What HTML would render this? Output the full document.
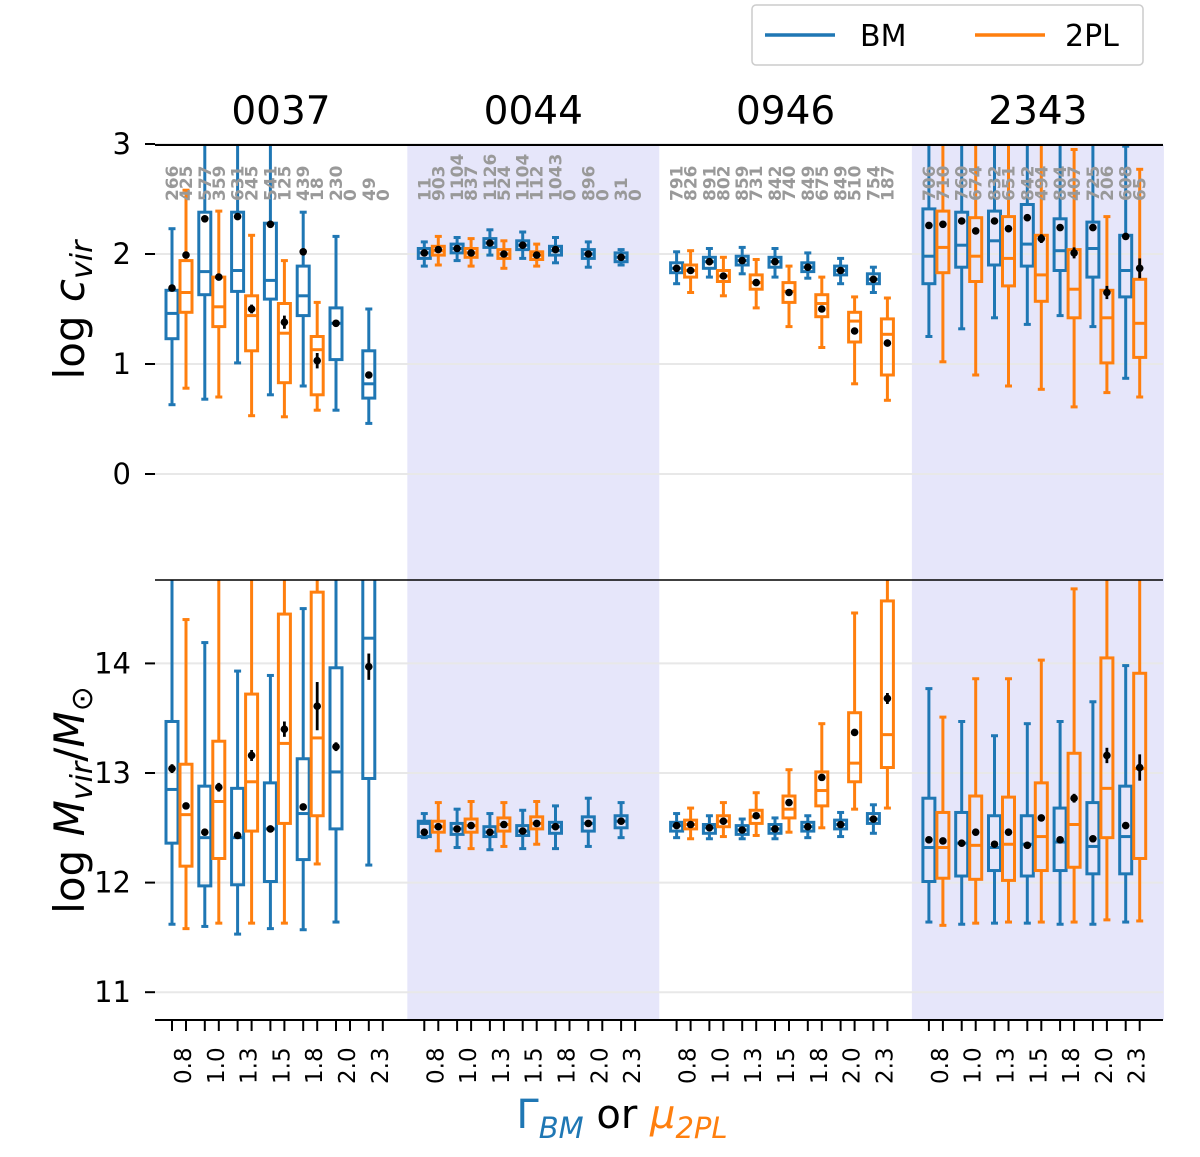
<!DOCTYPE html>
<html><head><meta charset="utf-8">
<style>
html,body{margin:0;padding:0;background:#fff;}
svg{display:block;font-family:"DejaVu Sans","Liberation Sans",sans-serif;}
</style></head>
<body>
<svg id="chart" width="1200" height="1157" viewBox="0 0 1200 1157" xmlns="http://www.w3.org/2000/svg">
<defs>
<clipPath id="clipTop"><rect x="155" y="145" width="1008" height="435"/></clipPath>
<clipPath id="clipBot"><rect x="155" y="580" width="1008" height="440"/></clipPath>
</defs>
<g id="bg"></g>
<g id="grid"></g>
<g id="marksTop" clip-path="url(#clipTop)"></g>
<g id="marksBot" clip-path="url(#clipBot)"></g>
<g id="axes"></g>
<g id="labels"></g>
<g>
<rect x="752" y="5" width="391" height="60" rx="4" fill="#fff" stroke="#ccc" stroke-width="1.5"/>
<g>
<line x1="765" y1="35" x2="835" y2="35" stroke="#1f77b4" stroke-width="3.5"/>
<text x="860" y="46" font-size="30" fill="#000">BM</text>
</g>
<g>
<line x1="975" y1="35" x2="1045" y2="35" stroke="#ff7f0e" stroke-width="3.5"/>
<text x="1065" y="46" font-size="30" fill="#000">2PL</text>
</g>
</g>
<text transform="translate(84,310) rotate(-90)" text-anchor="middle" font-size="42">log <tspan font-style="italic">c</tspan><tspan font-style="italic" font-size="30" dy="8">vir</tspan></text>
<text transform="translate(84,800) rotate(-90)" text-anchor="middle" font-size="42">log <tspan font-style="italic">M</tspan><tspan font-style="italic" font-size="30" dy="8">vir</tspan><tspan dy="-8">/</tspan><tspan font-style="italic">M</tspan><tspan font-size="30" dy="8">⊙</tspan></text>
<text x="622" y="1128" text-anchor="middle" font-size="40"><tspan fill="#1f77b4">Γ</tspan><tspan fill="#1f77b4" font-style="italic" font-size="29" dy="10">BM</tspan><tspan dy="-10" fill="#000"> or </tspan><tspan fill="#ff7f0e" font-style="italic">μ</tspan><tspan fill="#ff7f0e" font-style="italic" font-size="29" dy="10">2PL</tspan></text>
</svg>
<script>
// ---------- data ----------
const groups = ["0037","0044","0946","2343"];
const paramLabels = ["0.8","1.0","1.3","1.5","1.8","2.0","2.3"];
const topTicks = [0,1,2,3];
const botTicks = [11,12,13,14];
const countBM = [[266,577,631,541,439,230,49],[11,1104,1126,1104,1043,896,31],[791,891,859,842,849,849,754],[706,760,832,842,804,725,608]];
const count2PL = [[425,359,245,125,18,0,0],[903,837,524,112,0,0,0],[826,802,731,740,675,510,187],[710,674,651,494,407,206,65]];
const cBM = [
 [[0.63,1.23,1.46,1.67,2.23],[0.68,1.63,1.84,2.38,3.4],[1.01,1.66,1.85,2.38,3.4],[0.72,1.59,1.76,2.28,3.4],[0.80,1.44,1.62,1.89,2.38],[0.58,1.04,1.37,1.51,2.16],[0.46,0.69,0.82,1.12,1.50]],
 [[1.89,1.96,2.01,2.05,2.11],[1.94,2.01,2.05,2.09,2.15],[1.99,2.06,2.10,2.14,2.22],[1.96,2.04,2.08,2.12,2.20],[1.92,1.99,2.03,2.07,2.15],[1.88,1.96,2.00,2.04,2.11],[1.90,1.93,1.97,2.01,2.04]],
 [[1.73,1.83,1.87,1.92,2.02],[1.79,1.87,1.93,1.97,2.05],[1.82,1.90,1.94,1.98,2.06],[1.79,1.88,1.93,1.97,2.05],[1.78,1.84,1.88,1.92,2.01],[1.73,1.81,1.85,1.89,1.96],[1.65,1.73,1.77,1.82,1.88]],
 [[1.25,1.73,1.98,2.41,3.4],[1.32,1.88,2.08,2.38,3.4],[1.42,1.90,2.12,2.39,3.4],[1.36,1.89,2.09,2.45,3.4],[1.44,1.85,2.03,2.32,3.4],[1.34,1.79,2.05,2.29,3.4],[0.87,1.61,1.85,2.17,2.98]]
];
const c2PL = [
 [[0.78,1.47,1.65,1.94,2.58],[0.70,1.34,1.52,1.79,2.39],[0.53,1.12,1.44,1.62,2.17],[0.52,0.83,1.28,1.55,1.94],[0.58,0.72,1.13,1.25,1.56],null,null],
 [[1.90,1.99,2.03,2.07,2.16],[1.89,1.97,2.01,2.05,2.14],[1.87,1.96,2.00,2.04,2.12],[1.89,1.95,1.99,2.02,2.09],null,null,null],
 [[1.65,1.79,1.85,1.90,2.03],[1.62,1.75,1.80,1.85,1.97],[1.51,1.68,1.74,1.81,1.95],[1.34,1.56,1.66,1.74,1.89],[1.15,1.43,1.55,1.63,1.79],[0.82,1.20,1.39,1.47,1.61],[0.67,0.90,1.27,1.41,1.60]],
 [[1.02,1.83,2.06,2.39,3.4],[0.90,1.75,1.98,2.33,3.4],[0.80,1.71,1.96,2.34,3.4],[0.77,1.57,1.81,2.17,3.4],[0.61,1.42,1.68,2.04,2.95],[0.74,1.01,1.42,1.67,2.34],[0.70,1.06,1.37,1.77,2.77]]
];
const cMeanBM = [[1.69,2.32,2.34,2.27,2.02,1.37,0.90],[2.01,2.05,2.10,2.08,2.04,2.00,1.97],[1.87,1.93,1.94,1.93,1.88,1.85,1.77],[2.26,2.30,2.30,2.33,2.24,2.24,2.16]];
const cMean2PL = [[1.99,1.79,1.50,1.38,1.03,null,null],[2.04,2.01,2.00,1.99,null,null,null],[1.85,1.80,1.74,1.65,1.50,1.30,1.19],[2.27,2.21,2.23,2.14,2.01,1.65,1.87]];
const cErrBM = [[0.03,0.03,0.03,0.03,0.02,0.03,0.03],[0.02,0.01,0.01,0.01,0.01,0.01,0.02],[0.01,0.01,0.01,0.01,0.01,0.01,0.01],[0.02,0.02,0.02,0.02,0.02,0.02,0.02]];
const cErr2PL = [[0.02,0.03,0.04,0.06,0.07,null,null],[0.01,0.01,0.01,0.02,null,null,null],[0.01,0.01,0.01,0.01,0.02,0.02,0.03],[0.02,0.02,0.03,0.04,0.05,0.06,0.09]];
const mBM = [
 [[11.62,12.36,12.85,13.47,15.5],[11.60,11.97,12.41,12.88,14.19],[11.53,11.98,12.41,12.86,13.93],[11.58,12.01,12.49,12.91,13.89],[11.57,12.21,12.63,13.13,14.50],[11.64,12.49,13.01,13.96,15.5],[12.16,12.95,14.23,15.5,15.5]],
 [[12.41,12.42,12.54,12.56,12.63],[12.32,12.44,12.49,12.54,12.67],[12.30,12.42,12.46,12.51,12.63],[12.31,12.43,12.47,12.52,12.66],[12.31,12.45,12.51,12.55,12.70],[12.33,12.47,12.54,12.60,12.77],[12.41,12.50,12.56,12.61,12.73]],
 [[12.41,12.47,12.52,12.55,12.63],[12.40,12.45,12.50,12.53,12.61],[12.40,12.44,12.48,12.52,12.58],[12.40,12.45,12.49,12.53,12.59],[12.41,12.47,12.51,12.55,12.61],[12.42,12.49,12.53,12.57,12.64],[12.45,12.54,12.58,12.63,12.71]],
 [[11.64,12.01,12.32,12.77,13.77],[11.62,12.06,12.36,12.64,13.47],[11.63,12.11,12.32,12.61,13.34],[11.63,12.06,12.35,12.61,13.45],[11.62,12.11,12.37,12.68,13.47],[11.62,12.08,12.33,12.73,13.65],[11.64,12.08,12.42,12.88,13.98]]
];
const m2PL = [
 [[11.58,12.15,12.62,13.08,14.40],[11.63,12.22,12.74,13.29,15.5],[11.63,12.47,12.92,13.72,15.5],[11.63,12.54,13.27,14.45,15.5],[12.17,12.61,13.32,14.65,15.5],null,null],
 [[12.29,12.46,12.51,12.56,12.73],[12.31,12.46,12.52,12.58,12.74],[12.33,12.47,12.53,12.59,12.73],[12.35,12.49,12.54,12.60,12.74],null,null,null],
 [[12.40,12.49,12.53,12.57,12.68],[12.42,12.51,12.56,12.61,12.73],[12.43,12.54,12.60,12.66,12.82],[12.46,12.59,12.67,12.79,13.03],[12.50,12.70,12.84,13.01,13.45],[12.67,12.92,13.09,13.55,14.46],[12.68,13.05,13.35,14.57,15.5]],
 [[11.61,12.04,12.32,12.64,13.51],[11.63,12.03,12.34,12.79,13.86],[11.64,12.02,12.35,12.78,13.86],[11.64,12.11,12.42,12.91,14.03],[11.64,12.14,12.53,13.18,14.68],[11.66,12.41,12.86,14.05,15.5],[11.65,12.22,13.04,13.91,15.5]]
];
const mMeanBM = [[13.04,12.46,12.43,12.49,12.69,13.24,13.97],[12.46,12.49,12.46,12.47,12.51,12.54,12.56],[12.52,12.50,12.48,12.49,12.51,12.53,12.58],[12.39,12.36,12.35,12.34,12.39,12.40,12.52]];
const mMean2PL = [[12.70,12.87,13.16,13.40,13.61,null,null],[12.51,12.52,12.53,12.54,null,null,null],[12.53,12.56,12.61,12.73,12.96,13.37,13.68],[12.38,12.46,12.46,12.59,12.77,13.16,13.05]];
const mErrBM = [[0.04,0.02,0.02,0.02,0.03,0.04,0.12],[0.02,0.01,0.01,0.01,0.01,0.01,0.02],[0.01,0.01,0.01,0.01,0.01,0.01,0.01],[0.02,0.02,0.02,0.02,0.02,0.02,0.03]];
const mErr2PL = [[0.03,0.04,0.05,0.07,0.22,null,null],[0.01,0.01,0.01,0.01,null,null,null],[0.01,0.01,0.01,0.01,0.02,0.03,0.05],[0.02,0.02,0.02,0.03,0.04,0.07,0.12]];

// ---------- scales ----------
const BLUE="#1f77b4", ORANGE="#ff7f0e", NS="http://www.w3.org/2000/svg";
const groupLeft = g => 155 + g*252.3;
const xBM = (g,i) => groupLeft(g) + 17 + 32.8*i;
const x2PL = (g,i) => xBM(g,i) + 14;
const yTop = v => 474 - 110*v;
const yBot = v => 773 - 109.6*(v-13);

function el(tag, attrs, parent){
  const e=document.createElementNS(NS,tag);
  for(const k in attrs) e.setAttribute(k,attrs[k]);
  parent.appendChild(e); return e;
}
const bg=document.getElementById('bg'), grid=document.getElementById('grid'),
      axes=document.getElementById('axes'), labels=document.getElementById('labels');

[1,3].forEach(g=>{
  const r=el('rect',{x:groupLeft(g),y:145,width:252,height:875,fill:"#e6e6fa"},bg);
  
  
});
topTicks.forEach(t=>{
  const y=yTop(t);
  el('line',{x1:155,x2:1163,y1:y,y2:y,stroke:"#e8e8e8","stroke-width":2},grid);
  el('line',{x1:145,x2:155,y1:y,y2:y,stroke:"#000","stroke-width":2},axes);
  const tx=el('text',{x:131,y:y+10,"text-anchor":"end","font-size":29},axes);
  
  
  tx.textContent=t;
});
botTicks.forEach(t=>{
  const y=yBot(t);
  el('line',{x1:155,x2:1163,y1:y,y2:y,stroke:"#e8e8e8","stroke-width":2},grid);
  el('line',{x1:145,x2:155,y1:y,y2:y,stroke:"#000","stroke-width":2},axes);
  const tx=el('text',{x:131,y:y+10,"text-anchor":"end","font-size":29},axes);
  
  
  tx.textContent=t;
});
el('line',{x1:155,x2:1163,y1:145,y2:145,stroke:"#000","stroke-width":2},axes);
el('line',{x1:155,x2:1163,y1:580,y2:580,stroke:"#000","stroke-width":1.5},axes);
el('line',{x1:155,x2:1163,y1:1020,y2:1020,stroke:"#000","stroke-width":2},axes);

groups.forEach((gname,g)=>{
  const t=el('text',{x:groupLeft(g)+126,y:124,"text-anchor":"middle","font-size":39},labels);
  
  
  t.textContent=gname;
  paramLabels.forEach((p,i)=>{
    el('line',{x1:xBM(g,i),x2:xBM(g,i),y1:1020,y2:1031,stroke:"#000","stroke-width":2},axes);
    el('line',{x1:x2PL(g,i),x2:x2PL(g,i),y1:1020,y2:1031,stroke:"#000","stroke-width":2},axes);
    const cx=xBM(g,i)+11;
    const lt=el('text',{transform:`translate(${cx+8},1084) rotate(-90)`,"font-size":23},labels);
    
    
    lt.textContent=p;
    const c1=el('text',{transform:`translate(${xBM(g,i)+6},201) rotate(-90)`,"font-size":17,"font-weight":"bold",fill:"#999"},labels);
    
    
    c1.textContent=countBM[g][i];
    const c2=el('text',{transform:`translate(${x2PL(g,i)+6},201) rotate(-90)`,"font-size":17,"font-weight":"bold",fill:"#999"},labels);
    
    
    c2.textContent=count2PL[g][i];
  });
});

function drawBox(parent, x, s, ys, color, mean, err, name){
  if(!s) return;
  const gr=el('g',{},parent);
  
  
  const [lo,q1,md,q3,hi]=s.map(ys);
  const st={stroke:color,"stroke-width":3,fill:"none"};
  el('line',Object.assign({x1:x,x2:x,y1:q1,y2:lo},st),gr);
  el('line',Object.assign({x1:x,x2:x,y1:q3,y2:hi},st),gr);
  el('line',Object.assign({x1:x-3.5,x2:x+3.5,y1:lo,y2:lo},st),gr);
  el('line',Object.assign({x1:x-3.5,x2:x+3.5,y1:hi,y2:hi},st),gr);
  el('rect',Object.assign({x:x-6,y:q3,width:12,height:Math.max(q1-q3,0.5)},st),gr);
  el('line',Object.assign({x1:x-6,x2:x+6,y1:md,y2:md},st),gr);
  if(mean!=null){
    el('line',{x1:x,x2:x,y1:ys(mean+err),y2:ys(mean-err),stroke:"#000","stroke-width":2.8},gr);
    el('circle',{cx:x,cy:ys(mean),r:3.8,fill:"#000"},gr);
  }
}
const mt=document.getElementById('marksTop'), mb=document.getElementById('marksBot');
groups.forEach((gname,g)=>{
  paramLabels.forEach((p,i)=>{
    drawBox(mt,xBM(g,i),cBM[g][i],yTop,BLUE,cMeanBM[g][i],cErrBM[g][i],'box-c-bm-'+gname+'-'+p);
    drawBox(mt,x2PL(g,i),c2PL[g][i],yTop,ORANGE,cMean2PL[g][i],cErr2PL[g][i],'box-c-2pl-'+gname+'-'+p);
    drawBox(mb,xBM(g,i),mBM[g][i],yBot,BLUE,mMeanBM[g][i],mErrBM[g][i],'box-m-bm-'+gname+'-'+p);
    drawBox(mb,x2PL(g,i),m2PL[g][i],yBot,ORANGE,mMean2PL[g][i],mErr2PL[g][i],'box-m-2pl-'+gname+'-'+p);
  });
});
</script>
</body></html>
